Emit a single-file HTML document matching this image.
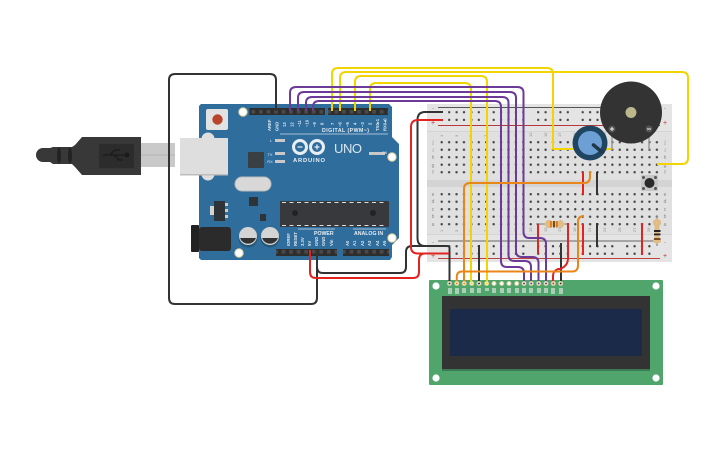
<!DOCTYPE html>
<html><head><meta charset="utf-8"><style>html,body{margin:0;padding:0;background:#fff}svg{display:block}text{font-family:"Liberation Sans",sans-serif}</style></head><body>
<svg width="725" height="453" viewBox="0 0 725 453" xmlns="http://www.w3.org/2000/svg">
<defs>
<pattern id="h" x="438" y="138.5" width="7.42" height="7.5" patternUnits="userSpaceOnUse"><circle cx="3.7" cy="3.75" r="1.2" fill="#444"/></pattern>
<pattern id="r" x="445.5" y="108.5" width="44.5" height="7.7" patternUnits="userSpaceOnUse"><circle cx="3.7" cy="3.75" r="1.2" fill="#444"/><circle cx="11.1" cy="3.75" r="1.2" fill="#444"/><circle cx="18.5" cy="3.75" r="1.2" fill="#444"/><circle cx="25.9" cy="3.75" r="1.2" fill="#444"/><circle cx="33.3" cy="3.75" r="1.2" fill="#444"/></pattern>
<pattern id="r2" x="445.5" y="242.5" width="44.5" height="7.5" patternUnits="userSpaceOnUse"><circle cx="3.7" cy="3.75" r="1.2" fill="#444"/><circle cx="11.1" cy="3.75" r="1.2" fill="#444"/><circle cx="18.5" cy="3.75" r="1.2" fill="#444"/><circle cx="25.9" cy="3.75" r="1.2" fill="#444"/><circle cx="33.3" cy="3.75" r="1.2" fill="#444"/></pattern>
<pattern id="h2" x="438" y="190.5" width="7.42" height="7.5" patternUnits="userSpaceOnUse"><circle cx="3.7" cy="3.75" r="1.2" fill="#444"/></pattern>
<pattern id="p" x="249.500" y="108" width="7.55" height="7" patternUnits="userSpaceOnUse"><rect width="7.55" height="7" fill="#2e2e2e"/><rect x="2" y="2" width="3.6" height="3.6" fill="#4a4a4a"/></pattern>
</defs>

<!-- breadboard -->
<rect x="427" y="104" width="245" height="158" rx="2" fill="#e0e0e0"/>
<rect x="427" y="104" width="245" height="27" fill="#e4e4e4"/>
<rect x="427" y="234" width="245" height="28" fill="#e4e4e4"/>
<rect x="427" y="180" width="245" height="7" fill="#d4d4d4"/>
<rect x="427" y="131" width="245" height="1" fill="#d4d4d4"/>
<rect x="427" y="234" width="245" height="1" fill="#d4d4d4"/>
<line x1="438" y1="107.5" x2="660" y2="107.5" stroke="#555" stroke-width="1"/>
<line x1="438" y1="125.5" x2="660" y2="125.5" stroke="#b5383a" stroke-width="1"/>
<line x1="438" y1="241" x2="660" y2="241" stroke="#666" stroke-width="1"/>
<line x1="438" y1="258.5" x2="660" y2="258.5" stroke="#c04040" stroke-width="1"/>
<rect x="445.5" y="108.5" width="207" height="15.4" fill="url(#r)"/>
<rect x="445.5" y="242.5" width="207" height="15" fill="url(#r2)"/>
<rect x="438" y="138.5" width="222.6" height="37.5" fill="url(#h)"/>
<rect x="438" y="190.5" width="222.6" height="37.5" fill="url(#h2)"/>
<g font-size="5" fill="#8a8a8a" text-anchor="middle">
<text x="433" y="144">j</text><text x="433" y="152">i</text><text x="433" y="159">h</text><text x="433" y="167">g</text><text x="433" y="174">f</text>
<text x="433" y="196">e</text><text x="433" y="203">d</text><text x="433" y="211">c</text><text x="433" y="218">b</text><text x="433" y="226">a</text>
<text x="665" y="144">j</text><text x="665" y="152">i</text><text x="665" y="159">h</text><text x="665" y="167">g</text><text x="665" y="174">f</text>
<text x="665" y="196">e</text><text x="665" y="203">d</text><text x="665" y="211">c</text><text x="665" y="218">b</text><text x="665" y="226">a</text>
<text x="433" y="125" fill="#c03030" font-size="7">+</text><text x="665" y="125" fill="#c03030" font-size="7">+</text>
<text x="433" y="258" fill="#c03030" font-size="7">+</text><text x="665" y="258" fill="#c03030" font-size="7">+</text>
<text x="433" y="244" font-size="6">-</text><text x="665" y="244" font-size="6">-</text>
<text x="433" y="110" font-size="6">-</text><text x="665" y="110" font-size="6">-</text>
</g>
<g font-size="4" fill="#8a8a8a">
<text transform="translate(443,232) rotate(-90)">1</text><text transform="translate(458,232) rotate(-90)">3</text><text transform="translate(472,232) rotate(-90)">5</text><text transform="translate(487,232) rotate(-90)">7</text><text transform="translate(502,232) rotate(-90)">9</text><text transform="translate(517,232) rotate(-90)">11</text><text transform="translate(532,232) rotate(-90)">13</text><text transform="translate(547,232) rotate(-90)">15</text><text transform="translate(561,232) rotate(-90)">17</text><text transform="translate(576,232) rotate(-90)">19</text><text transform="translate(591,232) rotate(-90)">21</text><text transform="translate(606,232) rotate(-90)">23</text><text transform="translate(621,232) rotate(-90)">25</text><text transform="translate(636,232) rotate(-90)">27</text><text transform="translate(650,232) rotate(-90)">29</text>
<text transform="translate(443,137) rotate(-90)">1</text><text transform="translate(458,137) rotate(-90)">3</text><text transform="translate(472,137) rotate(-90)">5</text><text transform="translate(487,137) rotate(-90)">7</text><text transform="translate(502,137) rotate(-90)">9</text><text transform="translate(517,137) rotate(-90)">11</text><text transform="translate(532,137) rotate(-90)">13</text><text transform="translate(547,137) rotate(-90)">15</text><text transform="translate(561,137) rotate(-90)">17</text><text transform="translate(576,137) rotate(-90)">19</text><text transform="translate(591,137) rotate(-90)">21</text><text transform="translate(606,137) rotate(-90)">23</text><text transform="translate(621,137) rotate(-90)">25</text><text transform="translate(636,137) rotate(-90)">27</text><text transform="translate(650,137) rotate(-90)">29</text>
</g>

<!-- USB -->
<rect x="141" y="143" width="34" height="24" fill="#c9c9c9"/>
<line x1="141" y1="155" x2="175" y2="155" stroke="#b4b4b4" stroke-width="1"/>
<path d="M43 148H50L53 147H72L75 145L82 137H141V175H82L75 167L72 164H53L50 162H43A7 7 0 0 1 43 148Z" fill="#383838"/>
<ellipse cx="59" cy="155.500" rx="2" ry="8" fill="#222"/><ellipse cx="70" cy="155.500" rx="2" ry="8" fill="#222"/>
<rect x="99" y="144" width="35" height="24" fill="#2c2c2c"/>
<path d="M103 155H128M110 155L115 150H120M114 155L119 160H123" stroke="#1b1b1b" stroke-width="1.3" fill="none"/>
<circle cx="127" cy="155" r="2.5" fill="#1b1b1b"/>

<!-- arduino -->
<path d="M201 104H389L392 107V137L399 144V238L392 245V257L390 260H201L199 258V106Z" fill="#2f6d9d"/>
<circle cx="208" cy="139" r="6.500" fill="#dedede"/><circle cx="208" cy="174" r="6.500" fill="#dedede"/>
<rect x="180" y="138" width="48" height="37" fill="#dedede"/>
<rect x="180" y="174" width="48" height="1.500" fill="#bdbdbd"/>
<rect x="206" y="109" width="22" height="21" rx="2" fill="#e2e2e2"/>
<circle cx="217.500" cy="119.500" r="5.200" fill="#b8452b"/>
<rect x="249.500" y="108" width="75.500" height="7" fill="url(#p)"/>
<rect x="328" y="108" width="60" height="7" fill="url(#p)"/>
<rect x="276" y="249" width="61" height="7" fill="url(#p)"/>
<rect x="343" y="249" width="46" height="7" fill="url(#p)"/>
<circle cx="243" cy="112" r="4.200" fill="#fff" stroke="#d8cf9a" stroke-width="1"/>
<circle cx="392" cy="157" r="4.200" fill="#fff" stroke="#d8cf9a" stroke-width="1"/>
<circle cx="392" cy="238" r="4.200" fill="#fff" stroke="#d8cf9a" stroke-width="1"/>
<circle cx="239" cy="253" r="4.200" fill="#fff" stroke="#d8cf9a" stroke-width="1"/>
<rect x="248" y="152" width="16" height="16" rx="1" fill="#3a3f44"/>
<rect x="235" y="177" width="36" height="14" rx="7" fill="#d8d8d8" stroke="#bbb" stroke-width="1"/>
<rect x="249" y="197" width="9" height="9" fill="#2e3338"/>
<rect x="214" y="201" width="11" height="20" fill="#2e3338"/><rect x="225" y="203" width="3" height="3" fill="#ccc"/><rect x="225" y="209" width="3" height="3" fill="#ccc"/><rect x="225" y="215" width="3" height="3" fill="#ccc"/><rect x="210" y="206" width="4" height="9" fill="#d4d4d4"/>
<rect x="260" y="214" width="6" height="7" fill="#2e3338"/>
<rect x="280" y="201" width="109" height="26" rx="1" fill="#37393c"/>
<path d="M282 202.500H387M282 225.500H387" stroke="#ddd" stroke-width="1" stroke-dasharray="4 3.500"/>
<circle cx="295" cy="213" r="3" fill="#222"/><circle cx="373" cy="213" r="3" fill="#222"/>
<rect x="191" y="225" width="8" height="27" rx="1" fill="#222"/>
<rect x="199" y="227" width="32" height="24" rx="3" fill="#2b2b2b"/>
<circle cx="248" cy="238" r="9.500" fill="#255777"/><circle cx="270" cy="238" r="9.500" fill="#255777"/>
<circle cx="248" cy="236" r="9" fill="#d4d4d4"/><circle cx="270" cy="236" r="9" fill="#d4d4d4"/>
<path d="M240 238A8.500 8.500 0 0 0 256 238Z" fill="#333"/><path d="M262 238A8.500 8.500 0 0 0 278 238Z" fill="#333"/>
<rect x="275" y="139" width="10" height="3" fill="#c8c8c8"/><rect x="275" y="152" width="10" height="3" fill="#c8c8c8"/><rect x="275" y="160" width="10" height="3" fill="#c8c8c8"/>
<rect x="369" y="152" width="16" height="3" fill="#c8c8c8"/>
<g fill="#dfe8ef" font-size="4" text-anchor="middle">
<text x="271" y="142">L</text><text x="270" y="156">TX</text><text x="270" y="163">RX</text><text x="382" y="154" font-size="3.500" text-anchor="start">ON</text>
</g>
<g fill="#dfe8ef" font-size="4.200" font-weight="bold">
<text transform="translate(271,131) rotate(-90)">AREF</text><text transform="translate(278.500,131) rotate(-90)">GND</text><text transform="translate(286,127) rotate(-90)">13</text><text transform="translate(293.500,127) rotate(-90)">12</text><text transform="translate(301,127) rotate(-90)">~11</text><text transform="translate(308.500,127) rotate(-90)">~10</text><text transform="translate(316,127) rotate(-90)">~9</text><text transform="translate(323.500,125) rotate(-90)">8</text><text transform="translate(334,125) rotate(-90)">7</text><text transform="translate(341.500,127) rotate(-90)">~6</text><text transform="translate(349,127) rotate(-90)">~5</text><text transform="translate(356.500,125) rotate(-90)">4</text><text transform="translate(364,127) rotate(-90)">~3</text><text transform="translate(371.500,125) rotate(-90)">2</text><text transform="translate(379,131) rotate(-90)">TX0▸1</text><text transform="translate(386.500,131) rotate(-90)">RX0◂0</text>
<text transform="translate(290,246) rotate(-90)">IOREF</text><text transform="translate(297,246) rotate(-90)">RESET</text><text transform="translate(304,246) rotate(-90)">3.3V</text><text transform="translate(311,246) rotate(-90)">5V</text><text transform="translate(318,246) rotate(-90)">GND</text><text transform="translate(325,246) rotate(-90)">GND</text><text transform="translate(333,246) rotate(-90)">Vin</text>
<text transform="translate(349,246) rotate(-90)">A0</text><text transform="translate(356,246) rotate(-90)">A1</text><text transform="translate(364,246) rotate(-90)">A2</text><text transform="translate(371,246) rotate(-90)">A3</text><text transform="translate(379,246) rotate(-90)">A4</text><text transform="translate(386,246) rotate(-90)">A5</text>
</g>
<text x="322" y="132" font-size="5.200" font-weight="bold" fill="#e6eef4" textLength="47">DIGITAL (PWM~)</text>
<line x1="280" y1="134" x2="388" y2="134" stroke="#cfdde8" stroke-width="0.800"/>
<text x="314" y="235" font-size="5.200" font-weight="bold" fill="#e6eef4">POWER</text>
<text x="354" y="235" font-size="5.200" font-weight="bold" fill="#e6eef4">ANALOG IN</text>
<line x1="298" y1="229" x2="335" y2="229" stroke="#cfdde8" stroke-width="0.800"/>
<line x1="353" y1="229" x2="386" y2="229" stroke="#cfdde8" stroke-width="0.800"/>
<circle cx="300" cy="147" r="6.500" fill="none" stroke="#e8eef2" stroke-width="3"/>
<circle cx="317" cy="147" r="6.500" fill="none" stroke="#e8eef2" stroke-width="3"/>
<path d="M297.500 147H302.500M314.500 147H319.500M317 144.500V149.500" stroke="#e8eef2" stroke-width="1.300"/>
<text x="293" y="162" font-size="5.800" font-weight="bold" fill="#e8eef2" textLength="32">ARDUINO</text>
<text x="334" y="153" font-size="13" fill="#dbe6ee" textLength="28">UNO</text>

<!-- lcd -->
<rect x="429" y="280" width="234" height="105" rx="1" fill="#4fa56c"/>
<rect x="442" y="296" width="208" height="73" fill="#333"/><rect x="442" y="369" width="208" height="2" fill="#3b7a52"/>
<rect x="450" y="309" width="192" height="47" rx="1" fill="#1b2a48"/>
<circle cx="436" cy="286" r="3.600" fill="#fff"/><circle cx="656" cy="286" r="3.600" fill="#fff"/><circle cx="436" cy="378" r="3.600" fill="#fff"/><circle cx="656" cy="378" r="3.600" fill="#fff"/>
<g fill="#c9ddcf" opacity="0.75">
<rect x="448" y="288" width="4" height="6"/><rect x="455" y="288" width="4" height="6"/><rect x="462" y="288" width="4" height="5"/><rect x="470" y="288" width="4" height="5"/><rect x="477" y="288" width="4" height="5"/><rect x="485" y="288" width="4" height="3"/><rect x="492" y="288" width="4" height="5"/><rect x="500" y="288" width="4" height="5"/><rect x="507" y="288" width="4" height="5"/><rect x="515" y="288" width="4" height="5"/><rect x="522" y="288" width="4" height="5"/><rect x="529" y="288" width="4" height="5"/><rect x="537" y="288" width="4" height="5"/><rect x="544" y="288" width="4" height="5"/><rect x="551" y="288" width="4" height="6"/><rect x="559" y="288" width="4" height="6"/>
</g>

<!-- resistors -->
<line x1="536" y1="224" x2="568" y2="224" stroke="#999" stroke-width="1.500"/>
<path d="M547 220H550L552 221.500H558L560 220H562L565 224L562 228H560L558 226.500H552L550 228H547L544 224Z" fill="#e0bd86"/>
<rect x="550" y="221" width="1.800" height="6.500" fill="#d9791c"/><rect x="553" y="221" width="2" height="6.500" fill="#7a4a1f"/><rect x="556" y="221" width="1.800" height="6.500" fill="#d9791c"/>
<line x1="657" y1="216" x2="657" y2="246" stroke="#999" stroke-width="1.500"/>
<path d="M653 224V221L657 218L661 221V224L659.500 226V238L661 240V242L657 244L653 242V240L654.500 238V226Z" fill="#e0bd86"/>
<rect x="654" y="230" width="6.500" height="2" fill="#222"/><rect x="654" y="233.500" width="6.500" height="1.800" fill="#222"/><rect x="654" y="238" width="6.500" height="2" fill="#7a4a1f"/>

<!-- wires -->
<g fill="none" stroke-width="2" stroke-linejoin="round">
<g stroke="#333">
<path d="M276 111V80Q276 74 270 74H175Q169 74 169 80V298Q169 304 175 304H311Q317 304 317 298V250"/>
<path d="M317 250V267Q317 273 323 273H400Q406 273 406 267V252Q406 246 412 246H447Q449.500 246 449.500 248V283"/>
<path d="M443 112H425Q417.500 112 417.500 120V238Q417.500 246 425 246H440"/>
<path d="M479 245V283M561 243V283M597 172V195M597 223V247"/>
</g>
<g stroke="#e2231f">
<path d="M310 250V272Q310 278 316 278H413Q419 278 419 272V260Q419 253.500 425 253.500H449"/>
<path d="M443 120H418Q411 120 411 127V247Q411 253.500 418 253.500H440"/>
<path d="M583 172V195M583 224V255M538 224V254M642 223V255"/>
<path d="M568 223V258Q568 266 560 269H558Q553 271 553 276V283"/>
</g>
<g stroke="#f2d400">
<path d="M332 111V74Q332 68 338 68H547Q553 68 553 74V149H612"/>
<path d="M340 111V78Q340 72 346 72H682Q688 72 688 78V158Q688 164 682 164H657"/>
<path d="M355 111V82Q355 76 361 76H481Q487 76 487 82V283"/>
<path d="M370 111V89Q370 83 376 83H465Q471 83 471 89V283"/>
</g>
<g stroke="#6c3a97">
<path d="M290 111V93Q290 87 296 87H517.500Q523.500 87 523.500 93V232Q523.500 238 529.500 238H540Q546 238 546 244V283"/>
<path d="M298 111V98Q298 92 304 92H510Q516 92 516 98V251Q516 257 522 257H532.500Q538.500 257 538.500 263V283"/>
<path d="M306 111V103Q306 97 312 97H502.500Q508.500 97 508.500 103V255Q508.500 261 514.500 261H525Q531 261 531 267V283"/>
<path d="M313 111V107Q313 101 319 101H495Q501 101 501 107V261Q501 267 507 267H518Q524 267 524 273V283"/>
</g>
<g stroke="#e8861a">
<path d="M590 171V177Q590 183 584 183H470Q464 183 464 189V283"/>
<path d="M456.800 283V277Q456.800 271.500 462 271.500H572Q578 271.500 578 265.500V222Q578 216 584 216"/>
</g>
</g>
<g fill="#fff" stroke="#d8cf9a" stroke-width="1">
<circle cx="449.500" cy="283.500" r="2"/><circle cx="456.800" cy="283.500" r="2"/><circle cx="464.200" cy="283.500" r="2"/><circle cx="471.700" cy="283.500" r="2"/><circle cx="479" cy="283.500" r="2"/><circle cx="486.700" cy="283.500" r="2"/><circle cx="494" cy="283.500" r="2"/><circle cx="501.700" cy="283.500" r="2"/><circle cx="509" cy="283.500" r="2"/><circle cx="516.700" cy="283.500" r="2"/><circle cx="524" cy="283.500" r="2"/><circle cx="531.200" cy="283.500" r="2"/><circle cx="538.700" cy="283.500" r="2"/><circle cx="546" cy="283.500" r="2"/><circle cx="553.300" cy="283.500" r="2"/><circle cx="560.700" cy="283.500" r="2"/>
</g>
<g>
<circle cx="449.500" cy="283.500" r="1" fill="#333"/><circle cx="456.800" cy="283.500" r="1" fill="#e8861a"/><circle cx="464.200" cy="283.500" r="1" fill="#e8861a"/><circle cx="471.700" cy="283.500" r="1" fill="#f2d400"/><circle cx="479" cy="283.500" r="1" fill="#333"/><circle cx="486.700" cy="283.500" r="1" fill="#f2d400"/><circle cx="524" cy="283.500" r="1" fill="#6c3a97"/><circle cx="531.200" cy="283.500" r="1" fill="#6c3a97"/><circle cx="538.700" cy="283.500" r="1" fill="#6c3a97"/><circle cx="546" cy="283.500" r="1" fill="#6c3a97"/><circle cx="553.300" cy="283.500" r="1" fill="#e2231f"/><circle cx="560.700" cy="283.500" r="1" fill="#333"/>
</g>

<!-- button -->
<rect x="641" y="175" width="17" height="16" rx="1" fill="#c6c6c6"/>
<circle cx="643.500" cy="177.500" r="1.500" fill="#555"/><circle cx="655.500" cy="177.500" r="1.500" fill="#555"/><circle cx="643.500" cy="188.500" r="1.500" fill="#555"/><circle cx="655.500" cy="188.500" r="1.500" fill="#555"/>
<circle cx="649.500" cy="183" r="5" fill="#2a2a2a"/>

<!-- pot -->
<circle cx="590" cy="143" r="17.500" fill="#1f4560"/>
<circle cx="590" cy="143" r="12" fill="#6c9fd3"/>
<line x1="593.500" y1="145" x2="602" y2="152" stroke="#22384a" stroke-width="3.500" stroke-linecap="round"/>

<!-- buzzer -->
<line x1="612" y1="130" x2="612" y2="150" stroke="#999" stroke-width="1.500"/>
<line x1="649" y1="130" x2="649" y2="150" stroke="#999" stroke-width="1.500"/>
<circle cx="631" cy="112.500" r="31" fill="#333"/>
<circle cx="631" cy="112.500" r="5.500" fill="#bdb78c"/>
<circle cx="612" cy="129" r="3.500" fill="#555"/><circle cx="649" cy="129" r="3.500" fill="#555"/>
<path d="M610 129H614M612 127V131M647 129H651" stroke="#eee" stroke-width="1"/>
</svg>
</body></html>
